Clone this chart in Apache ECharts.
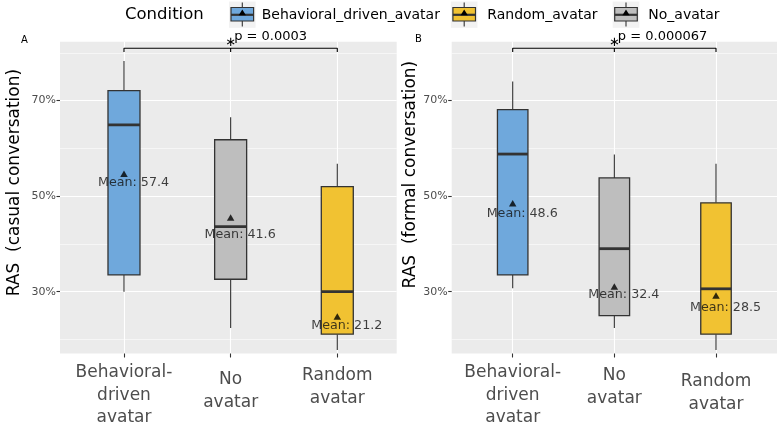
<!DOCTYPE html>
<html><head><meta charset="utf-8">
<script src="https://cdn.jsdelivr.net/npm/echarts@6/dist/echarts.min.js"></script>
<style>html,body{margin:0;padding:0;background:#fff}#c{width:777px;height:429px}</style>
</head><body><div id="c"></div>
<script>
// ---------------- data ----------------
const categories = ['Behavioral-\ndriven\navatar', 'No\navatar', 'Random\navatar'];
const conditionNames = ['Behavioral_driven_avatar', 'Random_avatar', 'No_avatar'];
const yTickValues = [30, 50, 70];
const yMinorValues = [20, 40, 60, 80];
// [min, q1, median, q3, max] for each category (percent)
const casualBox = [[30.0, 33.5, 64.9, 72.1, 78.3], [22.4, 32.6, 43.6, 61.8, 66.5], [17.8, 21.1, 30.0, 52.0, 56.8]];
const formalBox = [[30.7, 33.5, 58.8, 68.1, 74.0], [22.4, 25.0, 39.0, 53.8, 58.7], [17.8, 21.1, 30.6, 48.6, 56.8]];
const casualMeanMarker = [54.7, 45.5, 24.8];
const formalMeanMarker = [48.5, 31.1, 29.2];
const casualMeanText = ['57.4', '41.6', '21.2'];
const formalMeanText = ['48.6', '32.4', '28.5'];
const casualMeanLabelY = [52.8, 42.0, 22.9];
const formalMeanLabelY = [46.4, 29.3, 26.7];
const pValues = ['0.0003', '0.000067'];
const panelLetters = ['A', 'B'];
const yTitles = ['RAS  (casual conversation)', 'RAS  (formal conversation)'];
const legendTitle = 'Condition';

// ---------------- styles ----------------
const FONT = 'DejaVu Sans';
const catColors = ['#6fa8dc', '#bebebe', '#f1c232'];
const condColors = {Behavioral_driven_avatar: '#6fa8dc', Random_avatar: '#f1c232', No_avatar: '#bebebe'};
const Y_MIN = 17.06, Y_MAX = 82.32;
const BRACKET_TOP = 80.94, BRACKET_TICK = 80.17;
const BOX_W = 0.3;
const LH = 22.5;
const labelShift = [[0, 7, 3], [0, 3, 9]];

const rich = {t: {lineHeight: LH}};
[3, 7, 9].forEach(d => { rich['f' + d] = {lineHeight: LH + 2 * d}; rich['g' + d] = {lineHeight: LH - 2 * d}; });

function catLabel(panel, v) {
  const i = Math.round(v) - 1;
  const lines = categories[i].split('\n');
  const d = labelShift[panel][i];
  if (!d) return lines.map(l => '{t|' + l + '}').join('\n');
  return '{f' + d + '|' + lines[0] + '}\n{g' + d + '|' + lines[1] + '}';
}

function renderBox(params, api) {
  const x = api.value(0);
  const w = api.size([BOX_W, 0])[0];
  const p = [1, 2, 3, 4, 5].map(k => api.coord([x, api.value(k)]));
  const cx = p[0][0];
  const color = api.visual('color');
  const ls = {stroke: '#333333', lineWidth: 1.1};
  return {type: 'group', children: [
    {type: 'line', shape: {x1: cx, y1: p[4][1], x2: cx, y2: p[3][1]}, style: ls},
    {type: 'line', shape: {x1: cx, y1: p[1][1], x2: cx, y2: p[0][1]}, style: ls},
    {type: 'rect', shape: {x: cx - w / 2, y: p[3][1], width: w, height: p[1][1] - p[3][1]},
      style: {fill: color, stroke: '#333333', lineWidth: 1.3}},
    {type: 'line', shape: {x1: cx - w / 2, y1: p[2][1], x2: cx + w / 2, y2: p[2][1]},
      style: {stroke: '#333333', lineWidth: 2.8}}
  ]};
}

const panels = [
  {box: casualBox, mean: casualMeanMarker, text: casualMeanText, labelY: casualMeanLabelY},
  {box: formalBox, mean: formalMeanMarker, text: formalMeanText, labelY: formalMeanLabelY}
];

const grids = [
  {left: 60, top: 41.7, width: 336.7, height: 312.6},
  {left: 451.7, top: 41.7, width: 341.8, height: 312.6}
];
const xMax = [3.557, 3.6];
const nameGaps = [37, 28.5];
const namePads = [30, 46];

const option = {
  animation: false,
  textStyle: {fontFamily: FONT},
  grid: grids.map(g => Object.assign({show: true, backgroundColor: '#ebebeb', borderWidth: 0, containLabel: false}, g)),
  xAxis: [0, 1].map(i => ({
    gridIndex: i, type: 'value', min: 0.4, max: xMax[i],
    axisLine: {show: false},
    axisTick: {show: true, customValues: [1, 2, 3], length: 4, lineStyle: {color: '#333333', width: 1.1}},
    axisLabel: {customValues: [1, 2, 3], formatter: v => catLabel(i, v), margin: 8, fontSize: 17,
      color: '#4d4d4d', fontFamily: FONT, lineHeight: LH, verticalAlign: 'top', rich: rich},
    splitLine: {show: true, lineStyle: {color: '#ffffff', width: 1.1}}
  })),
  yAxis: [].concat(...[0, 1].map(i => [
    {
      gridIndex: i, type: 'value', min: Y_MIN, max: Y_MAX,
      axisLine: {show: false},
      axisTick: {show: true, customValues: yTickValues, length: 3.5, lineStyle: {color: '#333333', width: 1.1}},
      axisLabel: {customValues: yTickValues, formatter: '{value}%', margin: 4, fontSize: 11, color: '#4d4d4d', fontFamily: FONT},
      splitLine: {show: true, lineStyle: {color: '#ffffff', width: 1.1}},
      name: yTitles[i], nameLocation: 'middle', nameGap: nameGaps[i],
      nameTextStyle: {fontSize: 17, color: '#000000', fontFamily: FONT, padding: [0, 0, 0, namePads[i]]}
    },
    {
      gridIndex: i, type: 'value', min: Y_MIN, max: Y_MAX, position: 'left',
      axisLine: {show: false},
      axisTick: {show: false, customValues: yMinorValues},
      axisLabel: {show: false, customValues: yMinorValues},
      splitLine: {show: true, lineStyle: {color: '#ffffff', width: 0.55}}
    }
  ])),
  series: [].concat(...panels.map((pd, i) => [
    {
      type: 'custom', xAxisIndex: i, yAxisIndex: 2 * i, renderItem: renderBox, z: 2,
      data: pd.box.map((b, k) => ({value: [k + 1].concat(b), itemStyle: {color: catColors[k]}}))
    },
    {
      type: 'scatter', xAxisIndex: i, yAxisIndex: 2 * i, symbol: 'triangle', symbolSize: [7.5, 6.5], z: 3,
      itemStyle: {color: '#000000'},
      data: pd.mean.map((m, k) => [k + 1, m])
    },
    {
      type: 'scatter', xAxisIndex: i, yAxisIndex: 2 * i, symbolSize: 1, z: 4, silent: true,
      itemStyle: {color: 'rgba(0,0,0,0)'},
      label: {show: true, position: 'inside', offset: [9.5, 0], fontSize: 12.7, fontFamily: FONT, color: '#111111',
        formatter: p => 'Mean: ' + p.value[2]},
      data: pd.labelY.map((y, k) => [k + 1, y, pd.text[k]])
    },
    {
      type: 'line', xAxisIndex: i, yAxisIndex: 2 * i, symbol: 'none', z: 5, clip: false,
      lineStyle: {color: '#000000', width: 1.1},
      data: [[1, BRACKET_TICK], [1, BRACKET_TOP], [2, BRACKET_TOP], [2, BRACKET_TICK], [2, BRACKET_TOP], [3, BRACKET_TOP], [3, BRACKET_TICK]]
    }
  ]))
};

const chart = echarts.init(document.getElementById('c'), null, {renderer: 'canvas'});
chart.setOption(option);

// ---------------- legend & annotations ----------------
const gfx = [];
function txt(x, y, s, size, align, color) {
  return {type: 'text', x: x, y: y, z: 100,
    style: {text: s, fontSize: size, fontFamily: FONT, fill: color || '#000000',
      align: align, verticalAlign: 'middle', textAlign: align, textVerticalAlign: 'middle'}};
}
gfx.push(txt(125, 14.7, legendTitle, 16.5, 'left'));
const keyPos = [{cx: 242.3, tx: 261.7}, {cx: 464.2, tx: 487.3}, {cx: 626, tx: 648.3}];
conditionNames.forEach((n, k) => {
  const cx = keyPos[k].cx;
  gfx.push({type: 'rect', z: 100, shape: {x: cx - 13.3, y: 1.5, width: 26.6, height: 26.3}, style: {fill: '#f2f2f2'}});
  gfx.push({type: 'line', z: 101, shape: {x1: cx, y1: 2.5, x2: cx, y2: 26.5}, style: {stroke: '#333333', lineWidth: 1.1}});
  gfx.push({type: 'rect', z: 102, shape: {x: cx - 11.3, y: 7.5, width: 22.6, height: 13.5}, style: {fill: condColors[n], stroke: '#333333', lineWidth: 1.2}});
  gfx.push({type: 'line', z: 103, shape: {x1: cx - 11.3, y1: 14.8, x2: cx + 11.3, y2: 14.8}, style: {stroke: '#333333', lineWidth: 2.2}});
  gfx.push({type: 'polygon', z: 104, shape: {points: [[cx - 3.6, 15.2], [cx + 3.6, 15.2], [cx, 9.6]]}, style: {fill: '#000000'}});
  gfx.push(txt(keyPos[k].tx, 15.8, n, 14, 'left'));
});
const letterPos = [[21, 40], [415, 39.5]];
panelLetters.forEach((l, i) => gfx.push(txt(letterPos[i][0], letterPos[i][1], l, 10, 'left')));
[0, 1].forEach(i => {
  const p = chart.convertToPixel({xAxisIndex: i, yAxisIndex: 2 * i}, [2, BRACKET_TOP]);
  gfx.push(txt(p[0], p[1] - 5.5, '\u2217', 13, 'center'));
  gfx.push(txt(p[0] + 3.5, p[1] - 11.6, 'p = ' + pValues[i], 13, 'left'));
});
chart.setOption({graphic: gfx});
</script>
</body></html>
